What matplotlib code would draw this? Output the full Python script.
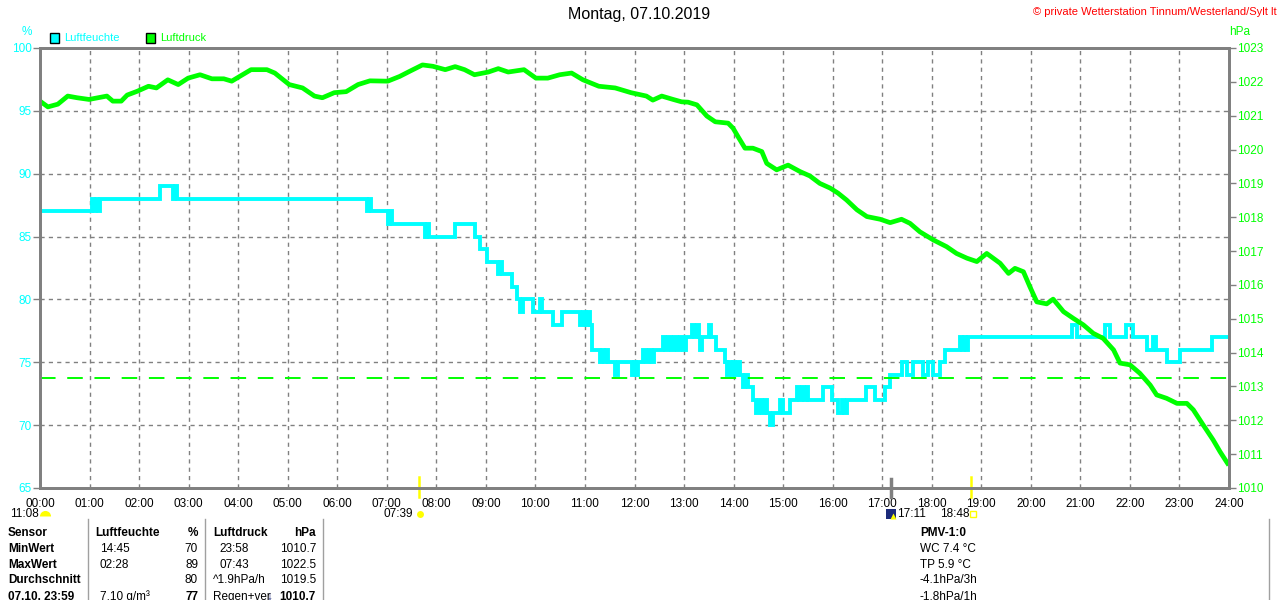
import matplotlib
matplotlib.use("Agg")
import matplotlib.pyplot as plt
from matplotlib.lines import Line2D
from matplotlib.patches import Rectangle

plt.rcParams['font.family'] = ['Liberation Sans', 'DejaVu Sans']

# humidity, step changes: start hour -> value (%)
hum_t = [0.00, 1.05, 1.09, 1.13, 1.17, 1.21, 2.42, 2.68, 2.73, 2.77, 6.60, 6.64, 6.68,
         7.02, 7.06, 7.11, 7.77, 7.81, 7.85, 8.38, 8.78, 8.88, 9.02, 9.24, 9.29, 9.33,
         9.53, 9.63, 9.69, 9.75, 9.95, 10.09, 10.13, 10.36, 10.54, 10.90, 10.96, 11.02,
         11.06, 11.10, 11.14, 11.30, 11.34, 11.38, 11.42, 11.47, 11.61, 11.67, 11.95,
         11.99, 12.03, 12.07, 12.17, 12.23, 12.29, 12.35, 12.39, 12.58, 12.62, 12.68,
         12.74, 12.80, 12.86, 12.92, 12.98, 13.04, 13.16, 13.20, 13.26, 13.30, 13.32,
         13.36, 13.50, 13.54, 13.64, 13.83, 13.87, 13.91, 13.95, 13.99, 14.03, 14.09,
         14.13, 14.19, 14.23, 14.29, 14.39, 14.45, 14.51, 14.57, 14.63, 14.67, 14.74,
         14.80, 14.94, 15.00, 15.14, 15.28, 15.32, 15.38, 15.42, 15.48, 15.50, 15.81,
         15.99, 16.11, 16.19, 16.23, 16.29, 16.67, 16.85, 17.06, 17.16, 17.40, 17.50,
         17.62, 17.82, 17.92, 18.02, 18.17, 18.27, 18.57, 18.61, 18.65, 18.69, 18.73,
         20.83, 20.93, 21.50, 21.60, 21.92, 22.06, 22.35, 22.47, 22.53, 22.75, 23.01,
         23.66, 24.00]
hum_v = [87, 88, 87, 88, 87, 88, 89, 88, 89, 88, 87, 88, 87,
         86, 87, 86, 85, 86, 85, 86, 85, 84, 83, 82, 83, 82,
         81, 80, 79, 80, 79, 80, 79, 78, 79, 78, 79, 78,
         79, 78, 76, 75, 76, 75, 76, 75, 74, 75, 74,
         75, 74, 75, 76, 75, 76, 75, 76, 77, 76, 77,
         76, 77, 76, 77, 76, 77, 78, 77, 78, 77, 76,
         77, 78, 77, 76, 75, 74, 75, 74, 75, 74, 75,
         74, 73, 74, 73, 72, 71, 72, 71, 72, 71, 70,
         71, 72, 71, 72, 73, 72, 73, 72, 73, 72, 73,
         72, 71, 72, 71, 72, 73, 72, 73, 74, 75, 74,
         75, 74, 75, 74, 75, 76, 77, 76, 77, 76, 77,
         78, 77, 78, 77, 78, 77, 76, 77, 76, 75, 76,
         77, 77]

# air pressure readings: hour -> hPa
pres_t = [0.00, 0.16, 0.36, 0.56, 0.75, 0.99, 1.35, 1.47, 1.64, 1.76, 1.96, 2.19, 2.35,
          2.58, 2.79, 2.99, 3.23, 3.47, 3.71, 3.87, 4.03, 4.26, 4.58, 4.74, 5.03, 5.30,
          5.54, 5.70, 5.94, 6.18, 6.42, 6.66, 7.02, 7.26, 7.46, 7.72, 7.93, 8.18, 8.38,
          8.57, 8.77, 9.05, 9.25, 9.45, 9.77, 10.01, 10.25, 10.49, 10.73, 10.96, 11.28,
          11.61, 11.93, 12.24, 12.37, 12.55, 12.78, 12.95, 13.08, 13.26, 13.46, 13.63,
          13.89, 13.99, 14.09, 14.23, 14.39, 14.57, 14.67, 14.87, 15.10, 15.34, 15.54,
          15.74, 15.95, 16.11, 16.28, 16.49, 16.69, 16.96, 17.16, 17.39, 17.56, 17.76,
          18.03, 18.30, 18.50, 18.71, 18.91, 19.11, 19.38, 19.55, 19.68, 19.85, 19.98,
          20.12, 20.32, 20.45, 20.66, 20.86, 21.06, 21.26, 21.46, 21.67, 21.80, 22.00,
          22.20, 22.41, 22.54, 22.74, 22.95, 23.15, 23.28, 23.48, 23.68, 23.82, 23.97]
pres_v = [1021.43, 1021.26, 1021.34, 1021.58, 1021.53, 1021.48, 1021.58, 1021.43, 1021.43,
          1021.61, 1021.72, 1021.87, 1021.82, 1022.06, 1021.92, 1022.11, 1022.21, 1022.09,
          1022.09, 1022.02, 1022.16, 1022.36, 1022.36, 1022.26, 1021.92, 1021.82, 1021.58,
          1021.53, 1021.68, 1021.71, 1021.92, 1022.03, 1022.02, 1022.16, 1022.31, 1022.50,
          1022.46, 1022.36, 1022.45, 1022.36, 1022.21, 1022.29, 1022.39, 1022.29, 1022.36,
          1022.11, 1022.11, 1022.21, 1022.26, 1022.06, 1021.87, 1021.82, 1021.68, 1021.58,
          1021.46, 1021.58, 1021.48, 1021.41, 1021.40, 1021.32, 1020.99, 1020.82, 1020.78,
          1020.63, 1020.38, 1020.04, 1020.04, 1019.94, 1019.59, 1019.40, 1019.54, 1019.35,
          1019.22, 1019.00, 1018.86, 1018.71, 1018.51, 1018.22, 1018.02, 1017.94, 1017.84,
          1017.94, 1017.82, 1017.57, 1017.33, 1017.13, 1016.93, 1016.79, 1016.69, 1016.93,
          1016.64, 1016.34, 1016.49, 1016.39, 1015.95, 1015.50, 1015.44, 1015.58, 1015.21,
          1015.01, 1014.82, 1014.57, 1014.42, 1014.08, 1013.69, 1013.64, 1013.39, 1013.04,
          1012.75, 1012.65, 1012.50, 1012.50, 1012.31, 1011.86, 1011.42, 1011.07, 1010.73]

normal_pressure = 1013.25
hour_labels = ["%02d:00" % h for h in range(25)]
hum_ticks = [65, 70, 75, 80, 85, 90, 95, 100]
pres_ticks = list(range(1010, 1024))

# events below the time axis: (hour, label)
moonset = (11.13, "11:08")
sunrise = (7.65, "07:39")
moonrise = (17.18, "17:11")
sunset = (18.80, "18:48")

table_rows = [
    ("Sensor", "Luftfeuchte", "%", "Luftdruck", "hPa"),
    ("MinWert", "14:45", "70", "23:58", "1010.7"),
    ("MaxWert", "02:28", "89", "07:43", "1022.5"),
    ("Durchschnitt", "", "80", "^1.9hPa/h", "1019.5"),
    ("07.10. 23:59", "7.10 g/m³", "77", "Regen+ver", "1010.7"),
]
extra_rows = ["PMV-1:0", "WC 7.4 °C", "TP 5.9 °C", "-4.1hPa/3h", "-1.8hPa/1h"]

CYAN = "#00ffff"
GREEN = "#00ff00"
GRAY = "#808080"
W, H = 1280, 600


def fx(x):
    return x / W


def fy(y):
    return 1 - y / H


fig = plt.figure(figsize=(12.8, 6), dpi=100)
ax = fig.add_axes([fx(40), fy(488), fx(1229) - fx(40), fy(48) - fy(488)])
ax2 = ax.twinx()

ax.step(hum_t, hum_v, where="post", color=CYAN, lw=2.8, solid_joinstyle="miter")
ax2.plot(pres_t, pres_v, color=GREEN, lw=3.4)
ax2.axhline(normal_pressure, color=GREEN, lw=1.4, dashes=(8, 6))

ax.set_xlim(0, 24)
ax.set_ylim(65, 100)
ax2.set_ylim(1010, 1023)
ax.set_xticks(range(25))
ax.set_xticklabels(hour_labels)
ax.set_yticks(hum_ticks)
ax2.set_yticks(pres_ticks)

ax.grid(True, color=GRAY, lw=1, dashes=(3, 3))
ax.tick_params(axis="x", length=0, pad=7, labelsize=8.5, colors="black")
ax.tick_params(axis="y", length=5, width=1, color=GRAY, pad=1, labelsize=8.5, labelcolor=CYAN)
ax2.tick_params(axis="y", length=5, width=1, color=GRAY, pad=1, labelsize=8.5, labelcolor=GREEN)
for a in (ax, ax2):
    for s in a.spines.values():
        s.set_color(GRAY)
        s.set_linewidth(2)

# sun/moon markers on the time axis
trans = ax.get_xaxis_transform()
ax.plot([sunrise[0]] * 2, [0.025, -0.02], color="#ffff00", lw=1.8, transform=trans, clip_on=False)
ax.plot([sunset[0]] * 2, [0.025, -0.02], color="#ffff00", lw=1.8, transform=trans, clip_on=False)
ax.plot([moonrise[0]] * 2, [0.02, -0.02], color=GRAY, lw=2.5, transform=trans, clip_on=False)

fig.text(fx(10), fy(514), moonset[1], fontsize=8.5, va="center")
fig.add_artist(Line2D([fx(45)], [fy(516)], marker="o", ms=8, color="#ffff00",
                      fillstyle="top", markeredgecolor="none", transform=fig.transFigure))
fig.text(fx(413), fy(514), sunrise[1], fontsize=8.5, va="center", ha="right")
fig.add_artist(Line2D([fx(420)], [fy(514)], marker="o", ms=5, color="#ffff00",
                      markeredgecolor="none", transform=fig.transFigure))
fig.add_artist(Rectangle((fx(886), fy(519)), fx(10), fy(509) - fy(519), facecolor="#1c2a7a",
                         edgecolor="none", transform=fig.transFigure))
fig.add_artist(Line2D([fx(893)], [fy(516)], marker="^", ms=4, color="#ffff00",
                      markeredgecolor="none", transform=fig.transFigure))
fig.text(fx(897), fy(514), moonrise[1], fontsize=8.5, va="center")
fig.text(fx(940), fy(514), sunset[1], fontsize=8.5, va="center")
fig.add_artist(Line2D([fx(973)], [fy(514)], marker="s", ms=4.5, color="#ffff00",
                      fillstyle="none", mew=1, transform=fig.transFigure))

# headings
fig.text(fx(639), fy(15), "Montag, 07.10.2019", fontsize=11.5, ha="center", va="center")
fig.text(fx(1277), fy(12), "© private Wetterstation Tinnum/Westerland/Sylt lt",
         fontsize=8, color="red", ha="right", va="center")
fig.text(fx(27), fy(32), "%", fontsize=8.5, color=CYAN, ha="center", va="center")
fig.text(fx(1240), fy(32), "hPa", fontsize=8.5, color=GREEN, ha="center", va="center")
fig.add_artist(Rectangle((fx(50), fy(43)), fx(9), fy(33) - fy(43), facecolor=CYAN,
                         edgecolor="black", lw=1, transform=fig.transFigure))
fig.text(fx(64), fy(38), "Luftfeuchte", fontsize=8, color=CYAN, va="center")
fig.add_artist(Rectangle((fx(146), fy(43)), fx(9), fy(33) - fy(43), facecolor=GREEN,
                         edgecolor="black", lw=1, transform=fig.transFigure))
fig.text(fx(160), fy(38), "Luftdruck", fontsize=8, color=GREEN, va="center")

# table below the chart
row_y = [533, 549, 565, 580, 597]
for i, (c0, c1, c2, c3, c4) in enumerate(table_rows):
    y = fy(row_y[i])
    head = i == 0
    fig.text(fx(8), y, c0, fontsize=8.5, fontweight="bold", va="center")
    fig.text(fx(95 if head else 100), y, c1, fontsize=8.5, va="center",
             fontweight="bold" if head else "normal")
    fig.text(fx(198), y, c2, fontsize=8.5, va="center", ha="right",
             fontweight="bold" if head or i == 4 else "normal")
    fig.text(fx(213 if head or i >= 3 else 219), y, c3, fontsize=8.5, va="center",
             fontweight="bold" if head else "normal")
    fig.text(fx(316), y, c4, fontsize=8.5, va="center", ha="right",
             fontweight="bold" if head or i == 4 else "normal")
fig.text(fx(266), fy(row_y[4]), "↓", fontsize=8.5, color="#1c2a7a", va="center", fontweight="bold")

for i, txt in enumerate(extra_rows):
    fig.text(fx(920), fy(row_y[i]), txt, fontsize=8.5, va="center",
             fontweight="bold" if i == 0 else "normal")

for xs in (88, 205, 323):
    fig.add_artist(Line2D([fx(xs)] * 2, [fy(519), fy(600)], color="#a0a0a0", lw=1,
                          transform=fig.transFigure))
fig.add_artist(Line2D([fx(1269)] * 2, [fy(519), fy(600)], color="#a0a0a0", lw=1,
                      transform=fig.transFigure))

fig.savefig("out.png", dpi=100, facecolor="white")
